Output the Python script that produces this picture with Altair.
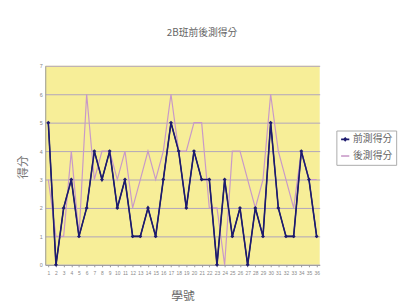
import altair as alt
import pandas as pd

students = list(range(1, 37))
pre = [5, 0, 2, 3, 1, 2, 4, 3, 4, 2, 3, 1, 1, 2, 1, 3, 5, 4, 2, 4, 3, 3, 0, 3, 1, 2, 0, 2, 1, 5, 2, 1, 1, 4, 3, 1]
post = [3, 1, 1, 4, 1, 6, 3, 4, 4, 3, 4, 2, 3, 4, 3, 4, 6, 4, 4, 5, 5, 2, 2, 0, 4, 4, 3, 2, 3, 6, 4, 3, 2, 4, 3, 3]
series = ["前測得分", "後測得分"]
y_ticks = [0, 1, 2, 3, 4, 5, 6, 7]

rows = []
for i, s in enumerate(students):
    rows.append({"學號": s, "series": series[0], "得分": pre[i], "order": 0})
for i, s in enumerate(students):
    rows.append({"學號": s, "series": series[1], "得分": post[i], "order": 1})
df = pd.DataFrame(rows)

FONT = "Noto Sans CJK TC"
NAVY = "#1d1b6e"
PINK = "#c899c8"

color_scale = alt.Scale(domain=series, range=[NAVY, PINK])
xenc = alt.X("學號:O", scale=alt.Scale(type="point", padding=0.4),
             axis=alt.Axis(title="學號", labelAngle=0, labelFontSize=5, labelColor="#888",
                           labelPadding=4, tickSize=2, tickColor="#999", domainColor="#999",
                           titleFontSize=12, titleColor="#666", titleFont=FONT,
                           titleFontWeight="normal", titleY=31, titleBaseline="middle", grid=False))
yenc = alt.Y("得分:Q", scale=alt.Scale(domain=[0, 7], nice=False),
             axis=alt.Axis(title="得分", values=y_ticks, labelFontSize=5.5, labelColor="#888",
                           labelPadding=3, ticks=False, domainColor="#999", gridColor="#a79cc0",
                           gridWidth=0.9, titleFontSize=12, titleColor="#777", titleFont=FONT,
                           titleFontWeight="normal", titleX=-23, titleY=103, titleAngle=-90,
                           titleBaseline="middle", titleAlign="center"))

base = alt.Chart(df)

color_enc = alt.Color("series:N", scale=color_scale, title=None)

lines = base.mark_line(strokeWidth=1.2).encode(
    x=xenc, y=yenc,
    color=color_enc,
    order=alt.Order("order:Q"),
    detail="series:N",
)
lines_navy = base.transform_filter(alt.datum.series == series[0]).mark_line(strokeWidth=1.6, color=NAVY).encode(
    x=xenc, y=yenc)

points = base.transform_filter(alt.datum.series == series[0]).mark_point(
    filled=True, shape="diamond", size=16, color=NAVY, opacity=1).encode(x=xenc, y=yenc)

shape_scale = alt.Scale(domain=series, range=[
    "M-1,0H1M0,-0.3L0.3,0L0,0.3L-0.3,0Z",
    "M-1,0H1",
])
legend_layer = base.mark_point(filled=False, strokeWidth=1.6, opacity=0).encode(
    x=xenc, y=yenc,
    color=color_enc,
    shape=alt.Shape("series:N", scale=shape_scale, title=None),
)

chart = alt.layer(lines, lines_navy, points, legend_layer).properties(
    width=280, height=203,
    autosize=alt.AutoSizeParams(type="none"),
    padding={"left": 38, "top": 56, "right": 87, "bottom": 38},
    title=alt.TitleParams("2B班前後測得分", font=FONT, fontSize=10, color="#666",
                          fontWeight="normal", anchor="middle", dx=20, offset=26),
).configure(background="white").configure_view(
    fill="#f7ee98", stroke=None
).configure_legend(
    orient="none", legendX=297, legendY=66, labelFont=FONT, labelFontSize=10,
    labelColor="#666", symbolSize=70, symbolOpacity=1, symbolStrokeWidth=1.6,
    strokeColor="#aaa", fillColor="white", padding=4, rowPadding=7, labelOffset=3,
)

chart.save("out.html", embed_options={"renderer": "svg", "actions": False})
